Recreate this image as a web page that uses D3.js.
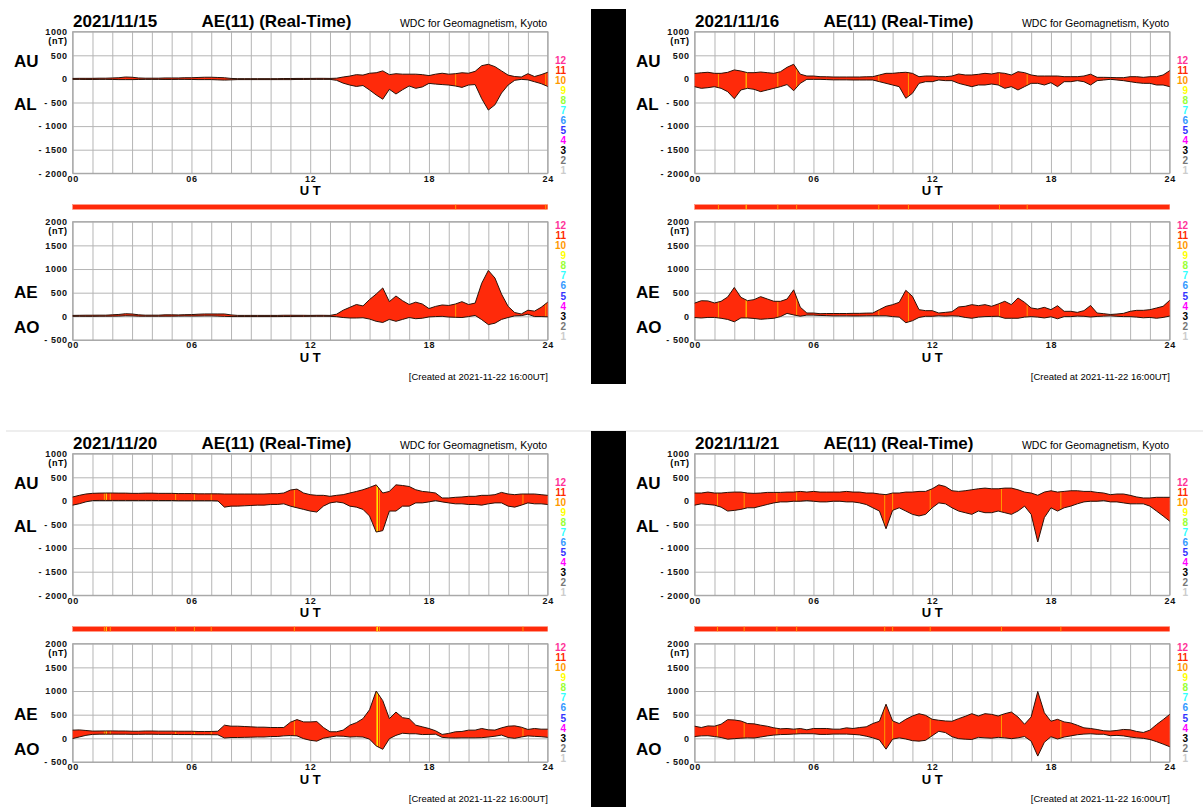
<!DOCTYPE html>
<html>
<head>
<meta charset="utf-8">
<script src="https://cdn.jsdelivr.net/npm/d3@7"></script>
<style>
  body { margin: 0; background: #fff; }
  svg { display: block; font-family: "Liberation Sans", Arial, sans-serif; }
</style>
</head>
<body>
<svg width="1203" height="807"></svg>
<script>
// samples every 20 minutes, 00:00 .. 24:00 (73 values), nT
const AU_15 = [10,12,12,12,15,15,20,25,40,35,20,15,15,15,20,20,20,25,25,30,35,35,30,25,
  10,5,5,5,5,5,5,5,8,8,10,10,10,12,12,10,15,40,60,90,80,120,130,170,90,110,100,100,100,90,
  70,100,120,100,110,130,120,160,280,310,260,170,80,50,40,110,50,90,140];
const AL_15 = [-10,-10,-12,-12,-10,-10,-12,-15,-15,-15,-12,-10,-10,-10,-12,-12,-10,-10,-12,-15,-15,-15,-20,-25,
  -20,-15,-15,-15,-15,-15,-15,-15,-15,-15,-12,-12,-10,-10,-10,-10,-30,-90,-130,-160,-140,-235,-340,-430,-220,-320,-230,-150,-200,-170,
  -95,-110,-120,-130,-150,-180,-130,-120,-420,-660,-550,-300,-130,-30,-10,-20,-60,-100,-160];

const AU_16 = [115,130,140,118,118,139,190,167,132,132,146,132,118,153,245,310,100,61,61,47,45,40,40,40,
  40,40,45,47,83,118,118,132,140,118,47,61,61,47,47,61,104,83,83,97,118,104,132,118,83,153,132,83,61,61,
  61,61,47,47,47,61,100,33,33,30,26,26,47,47,33,47,47,83,175];
const AL_16 = [-165,-200,-186,-165,-200,-270,-420,-235,-200,-221,-270,-235,-200,-164,-120,-250,-94,-9,-9,-9,-15,-20,-20,-20,
  -23,-23,-23,-23,-59,-94,-129,-164,-410,-305,-94,-59,-59,-23,-37,-37,-94,-129,-164,-129,-129,-108,-129,-200,-164,-235,-164,-94,-94,-129,
  -80,-164,-59,-59,-37,-59,-129,-37,-23,-9,-23,-37,-59,-80,-94,-94,-129,-129,-164];

const AU_20 = [83,118,146,160,165,167,167,165,165,160,160,165,165,160,160,160,155,155,155,150,150,150,150,146,
  146,146,146,146,146,146,153,153,167,230,250,167,132,118,118,97,118,132,167,200,236,285,340,167,201,340,326,305,236,201,
  187,167,62,62,76,83,97,97,118,118,132,180,146,132,146,146,146,132,118];
const AL_20 = [-90,-60,-20,7,10,10,10,10,10,10,10,10,10,8,8,8,5,5,5,5,5,5,0,-132,
  -111,-111,-104,-97,-90,-90,-76,-76,-62,-111,-146,-180,-215,-236,-111,-42,-21,-42,-111,-132,-180,-320,-660,-630,-215,-215,-111,-111,-42,-42,
  -21,7,-21,-42,-62,-62,-76,-76,-90,-62,-42,-42,-111,-132,-90,-42,-62,-62,-76];

const AU_21 = [167,167,187,167,167,180,187,187,167,160,167,180,180,180,187,187,201,187,201,187,187,187,187,201,
  187,187,167,167,146,132,167,167,187,187,201,201,257,340,305,215,201,215,236,257,271,257,257,271,271,236,187,167,120,187,
  215,187,201,215,215,201,201,180,167,132,146,146,118,83,62,62,76,76,76];
const AL_21 = [-90,-62,-76,-90,-132,-215,-201,-180,-146,-146,-111,-76,-42,-21,-21,-7,-7,7,-7,-21,-21,-7,-7,-21,
  -21,-42,-76,-146,-215,-590,-201,-146,-215,-285,-319,-285,-146,-42,-62,-146,-215,-250,-285,-215,-250,-250,-215,-250,-285,-215,-111,-285,-870,-354,
  -146,-215,-146,-111,-62,-21,-7,-7,7,-21,-21,-42,-62,-62,-62,-111,-215,-319,-430];

// UT hours when fewer stations were in use (10 = orange, 9 = yellow)
const TEN_15 = [19.35, 23.9];
const TEN_16 = [1.2, 4.2, 5.15, 9.3, 10.8, 15.4, 16.8];
const NINE_16 = [2.6];
const TEN_20 = [1.6, 1.9, 5.2, 6.15, 7.0, 11.2, 15.35, 15.5, 22.75];
const NINE_20 = [1.7, 15.4];
const TEN_21 = [1.15, 2.5, 4.15, 5.15, 9.6, 10.0, 11.9, 15.5, 18.5];

const DATES = ["2021/11/15", "2021/11/16", "2021/11/20", "2021/11/21"];
const X_TICKS = [0, 6, 12, 18, 24];
const UPPER_TICKS = [1000, 500, 0, -500, -1000, -1500, -2000];
const LOWER_TICKS = [2000, 1500, 1000, 500, 0, -500];
const COUNT_LABELS = [12, 11, 10, 9, 8, 7, 6, 5, 4, 3, 2, 1];
const COUNT_COLORS = ["#ff3399", "#ff2a00", "#ff9900", "#ffff00", "#99ff33", "#33ffff",
  "#3399ff", "#3333ff", "#ff00ff", "#000000", "#777777", "#cccccc"];

const panels = [
  { date: DATES[0], au: AU_15, al: AL_15, ten: TEN_15, nine: [], dx: 0, dy: 0 },
  { date: DATES[1], au: AU_16, al: AL_16, ten: TEN_16, nine: NINE_16, dx: 622, dy: 0 },
  { date: DATES[2], au: AU_20, al: AL_20, ten: TEN_20, nine: NINE_20, dx: 0, dy: 422 },
  { date: DATES[3], au: AU_21, al: AL_21, ten: TEN_21, nine: [], dx: 622, dy: 422 }
];

const FILL = "#ff2a0a";
const EDGE = "#2a1208";
const GRID = "#b5b5b5";

const svg = d3.select("svg");

// separators
svg.append("line").attr("x1", 6).attr("x2", 1203).attr("y1", 431).attr("y2", 431)
  .attr("stroke", "#dddddd");
svg.append("rect").attr("x", 591).attr("y", 9).attr("width", 35).attr("height", 375).attr("fill", "#000");
svg.append("rect").attr("x", 591).attr("y", 431).attr("width", 35).attr("height", 376).attr("fill", "#000");

const x = d3.scaleLinear().domain([0, 24]).range([72.7, 547.7]);
const yU = d3.scaleLinear().domain([-2000, 1000]).range([173.3, 31.7]);
const yL = d3.scaleLinear().domain([-500, 2000]).range([340, 221.7]);
const hourOf = i => i / 3;

const fmtY = v => (v < 0 ? "- " + (-v) : String(v));

function drawPlot(g, y, ticks, top, bottom, hi, lo, marks, id, labels, legend) {
  // grid
  g.append("g")
    .attr("transform", `translate(0,${bottom})`)
    .call(d3.axisBottom(x).tickValues(d3.range(0, 25)).tickSize(-(bottom - top)).tickFormat(""))
    .call(a => a.select(".domain").remove())
    .call(a => a.selectAll("line").attr("stroke", GRID));
  g.append("g")
    .attr("transform", `translate(${x(0)},0)`)
    .call(d3.axisLeft(y).tickValues(ticks).tickSize(-(x(24) - x(0))).tickFormat(""))
    .call(a => a.select(".domain").remove())
    .call(a => a.selectAll("line").attr("stroke", GRID));
  g.append("rect")
    .attr("x", x(0)).attr("y", top).attr("width", x(24) - x(0)).attr("height", bottom - top)
    .attr("fill", "none").attr("stroke", "#a0a0a0");

  // filled band
  const area = d3.area().x((d, i) => x(hourOf(i))).y0((d, i) => y(lo[i])).y1(d => y(d));
  g.append("clipPath").attr("id", id).append("path").attr("d", area(hi));
  g.append("path").attr("d", area(hi)).attr("fill", FILL);
  g.append("g").attr("clip-path", `url(#${id})`)
    .selectAll("line").data(marks).join("line")
    .attr("x1", d => x(d.h)).attr("x2", d => x(d.h))
    .attr("y1", top).attr("y2", bottom)
    .attr("stroke", d => d.c).attr("stroke-width", 1);
  const line = d3.line().x((d, i) => x(hourOf(i))).y(d => y(d));
  [hi, lo].forEach(s => g.append("path").attr("d", line(s))
    .attr("fill", "none").attr("stroke", EDGE).attr("stroke-width", 1));

  // y labels
  const ya = g.append("g")
    .attr("transform", `translate(${x(0) - 5},0)`)
    .call(d3.axisLeft(y).tickValues(ticks).tickSize(0).tickPadding(0).tickFormat(fmtY));
  ya.select(".domain").remove();
  ya.selectAll("text").attr("font-family", null).attr("font-size", 9).attr("font-weight", "bold")
    .attr("letter-spacing", 0.6).attr("fill", "#111");
  g.append("text").attr("x", x(0) - 5).attr("y", top + 12).attr("text-anchor", "end")
    .attr("font-size", 9).attr("font-weight", "bold").attr("letter-spacing", 0.6).text("(nT)");

  // x labels
  const xa = g.append("g")
    .attr("transform", `translate(0,${bottom})`)
    .call(d3.axisBottom(x).tickValues(X_TICKS).tickSize(0).tickPadding(2).tickFormat(d3.format("02d")));
  xa.select(".domain").remove();
  xa.selectAll("text").attr("font-family", null).attr("font-size", 9).attr("font-weight", "bold")
    .attr("letter-spacing", 0.6).attr("fill", "#111");
  g.append("text").attr("x", x(12)).attr("y", bottom + 21.5).attr("text-anchor", "middle")
    .attr("font-size", 13).attr("font-weight", "bold").attr("xml:space", "preserve").text("U T");

  // big side labels
  g.selectAll(".side").data(labels).join("text")
    .attr("x", 14).attr("y", d => d.y).attr("font-size", 17).attr("font-weight", "bold")
    .text(d => d.t);

  // station count legend
  g.append("g").selectAll("text").data(COUNT_LABELS).join("text")
    .attr("x", 566).attr("y", (d, i) => legend.y0 + i * legend.step)
    .attr("text-anchor", "end").attr("font-size", 10).attr("font-weight", "bold")
    .attr("fill", (d, i) => COUNT_COLORS[i]).text(d => d);
}

panels.forEach((p, k) => {
  const g = svg.append("g").attr("transform", `translate(${p.dx},${p.dy})`);
  const marks = p.ten.map(h => ({ h, c: "#ff9900" })).concat(p.nine.map(h => ({ h, c: "#ffe800" })));

  g.append("text").attr("x", 73).attr("y", 26.5).attr("font-size", 17).attr("font-weight", "bold").text(p.date);
  g.append("text").attr("x", 201.5).attr("y", 26.5).attr("font-size", 17).attr("font-weight", "bold")
    .text("AE(11) (Real-Time)");
  g.append("text").attr("x", 547).attr("y", 26.5).attr("text-anchor", "end").attr("font-size", 10.5)
    .text("WDC for Geomagnetism, Kyoto");

  drawPlot(g, yU, UPPER_TICKS, 31.7, 173.3, p.au, p.al, marks, "clipU" + k,
    [{ t: "AU", y: 66.7 }, { t: "AL", y: 110 }], { y0: 63.5, step: 10 });

  const ae = p.au.map((v, i) => v - p.al[i]);
  const ao = p.au.map((v, i) => (v + p.al[i]) / 2);
  drawPlot(g, yL, LOWER_TICKS, 221.7, 340, ae, ao, marks, "clipL" + k,
    [{ t: "AE", y: 298.3 }, { t: "AO", y: 333.3 }], { y0: 228.5, step: 10.15 });

  // station count bar
  g.append("rect").attr("x", x(0)).attr("y", 204.7).attr("width", x(24) - x(0)).attr("height", 4.6)
    .attr("fill", FILL).attr("stroke", "#ff7a60").attr("stroke-width", 0.5);
  g.append("g").selectAll("line").data(marks).join("line")
    .attr("x1", d => x(d.h)).attr("x2", d => x(d.h)).attr("y1", 204.7).attr("y2", 209.3)
    .attr("stroke", d => d.c).attr("stroke-width", 1);

  g.append("text").attr("x", 548).attr("y", 380).attr("text-anchor", "end").attr("font-size", 9.5)
    .text("[Created at 2021-11-22 16:00UT]");
});
</script>
</body>
</html>
